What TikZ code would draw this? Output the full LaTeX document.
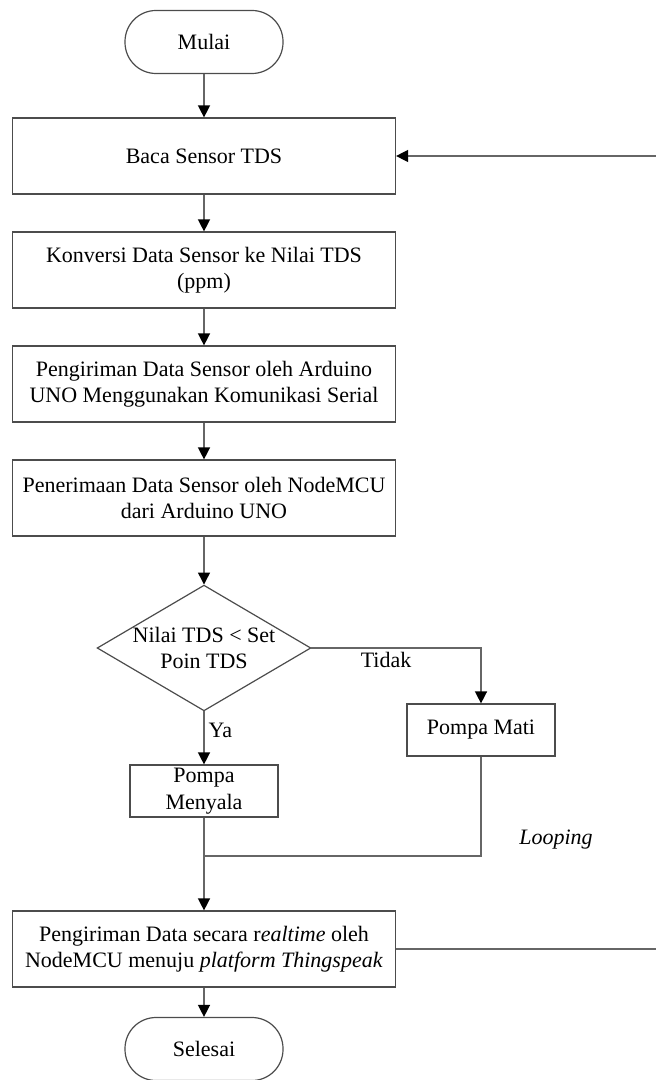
\documentclass[tikz,border=0pt]{standalone}
\usepackage{fontspec}
\setmainfont{Liberation Serif}
\usetikzlibrary{shapes.geometric, arrows.meta, positioning}

\begin{document}
\begin{tikzpicture}[x=0.5pt, y=-0.5pt, node distance=57pt, font=\fontsize{11}{13.2}\selectfont]
\tikzstyle{terminal} = [rectangle, rounded corners=15.5pt, minimum width=79pt, minimum height=31.5pt, draw=black!70, line width=0.6pt]
\tikzstyle{process} = [rectangle, minimum width=191.5pt, minimum height=38pt, text centered, align=center, draw=black!70, line width=0.6pt]
\tikzstyle{small} = [rectangle, minimum width=74pt, minimum height=26pt, inner sep=1pt, align=center, draw=black!70, line width=0.6pt]
\tikzstyle{decision} = [diamond, aspect=1.7, inner sep=0pt, minimum width=106pt, minimum height=62.5pt, align=center, draw=black!70, line width=0.6pt]
\tikzstyle{line} = [draw=black!60, line width=0.7pt]
\tikzstyle{arrow} = [line, -{Triangle[length=6pt, width=6pt, color=black]}]

\useasboundingbox (0,0) rectangle (656,1080);

\node (start) [terminal] at (204,42) {Mulai};
\node (read)  [process, below of=start] {Baca Sensor TDS};
\node (conv)  [process, below of=read] {Konversi Data Sensor ke Nilai TDS\\(ppm)};
\node (tx)    [process, below of=conv] {Pengiriman Data Sensor oleh Arduino\\UNO Menggunakan Komunikasi Serial};
\node (rx)    [process, below of=tx] {Penerimaan Data Sensor oleh NodeMCU\\dari Arduino UNO};
\node (dec)   [decision, below of=rx, yshift=-18pt] {Nilai TDS < Set\\Poin TDS};
\node (on)    [small, below of=dec, yshift=-14.5pt] {Pompa\\Menyala};
\node (off)   [small, right of=dec, xshift=81.5pt, yshift=-41pt] {Pompa Mati};
\node (send)  [process, below of=on, yshift=-22pt] {Pengiriman Data secara r\textit{ealtime} oleh\\NodeMCU menuju \textit{platform Thingspeak}};
\node (stop)  [terminal, below of=send, yshift=7pt] {Selesai};
\node (loop)  at (556,840) {\textit{Looping}};

\coordinate (join) at (204,856);
\coordinate (rside) at (659,0);

\draw [arrow] (start) -- (read);
\draw [arrow] (read) -- (conv);
\draw [arrow] (conv) -- (tx);
\draw [arrow] (tx) -- (rx);
\draw [arrow] (rx) -- (dec);
\draw [arrow] (dec) -- node[right, pos=0.35, inner sep=2pt] {Ya} (on);
\draw [arrow] (dec.east) -| node[below, pos=0.22, inner sep=2pt] {Tidak} (off.north);
\draw [line] (off.south) |- (join);
\draw [arrow] (on) -- (send);
\draw [arrow] (send) -- (stop);
\draw [arrow] (send.east) -- (send.east -| rside) |- (read.east);

\end{tikzpicture}
\end{document}
